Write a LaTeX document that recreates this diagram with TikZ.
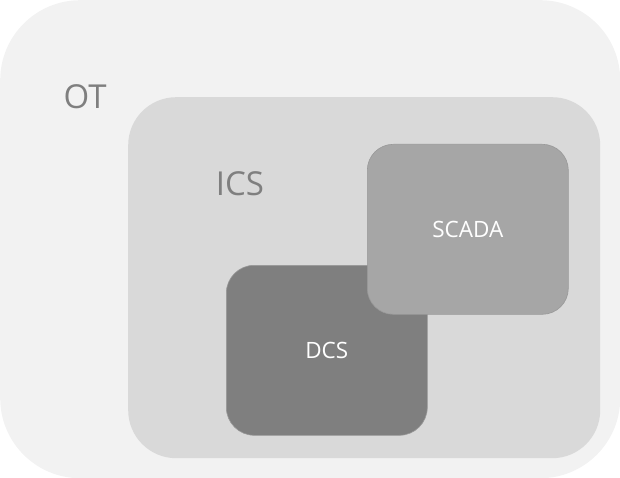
\documentclass[tikz,border=0pt]{standalone}
\usepackage{fontspec}
\setmainfont{Open Sans}
\usepackage{xcolor}
\usetikzlibrary{positioning}

\definecolor{otfill}{HTML}{F2F2F2}
\definecolor{icsfill}{HTML}{D9D9D9}
\definecolor{scadafill}{HTML}{A6A6A6}
\definecolor{dcsfill}{HTML}{7F7F7F}
\definecolor{labelgray}{HTML}{7F7F7F}

\begin{document}
\begin{tikzpicture}[x=1pt, y=-1pt,
    zone/.style={rectangle, inner sep=0pt, anchor=north west},
    subsys/.style={zone, draw=white!60!black, line width=0.6pt, text=white, font=\fontsize{22.5}{27}\selectfont},
    zonelabel/.style={anchor=base, inner sep=0pt, text=labelgray, font=\fontsize{33}{39}\selectfont}]
    \useasboundingbox (0,0) rectangle (620,478);
    % Nodes
    \node[zone, fill=otfill, minimum width=620pt, minimum height=478pt, rounded corners=80pt] (ot) at (0,0) {};
    \node[zone, fill=icsfill, minimum width=472pt, minimum height=361pt, rounded corners=48pt] (ics) at (128,97) {};
    \node[subsys, fill=dcsfill, minimum width=201pt, minimum height=170pt, rounded corners=28pt] (dcs) at (226,265) {DCS};
    \node[subsys, fill=scadafill, minimum width=201pt, minimum height=170pt, rounded corners=26pt] (scada) at (367,144) {SCADA};

    % Labels
    \node[zonelabel] (otlabel) at (85,109) {OT};
    \node[zonelabel] (icslabel) at (240,196) {ICS};
\end{tikzpicture}
\end{document}
